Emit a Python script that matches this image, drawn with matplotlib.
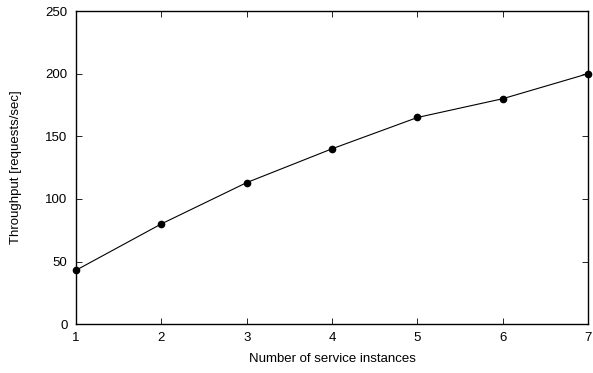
import matplotlib
matplotlib.use("Agg")
import matplotlib.pyplot as plt

instances = [1, 2, 3, 4, 5, 6, 7]
throughput = [43, 80, 113, 140, 165, 180, 200]
y_ticks = [0, 50, 100, 150, 200, 250]

plt.rcParams['font.family'] = ['Liberation Sans', 'DejaVu Sans']
plt.rcParams['font.size'] = 9.5

fig = plt.figure(figsize=(5.93, 3.73), dpi=100)
ax = fig.add_axes([0.128, 0.131, 0.864, 0.8395])

ax.plot(instances, throughput, color="black", linewidth=0.8,
        marker="o", markersize=4.5, clip_on=False)

ax.set_xlim(1, 7)
ax.set_ylim(0, 250)
ax.set_xticks(instances)
ax.set_yticks(y_ticks)
ax.tick_params(direction="in", top=True, right=True, length=4, width=0.6, pad=6)
for s in ax.spines.values():
    s.set_linewidth(1.0)

ax.set_xlabel("Number of service instances", labelpad=6)
ax.set_ylabel("Throughput [requests/sec]", labelpad=17)

fig.savefig("out.png", dpi=100)
